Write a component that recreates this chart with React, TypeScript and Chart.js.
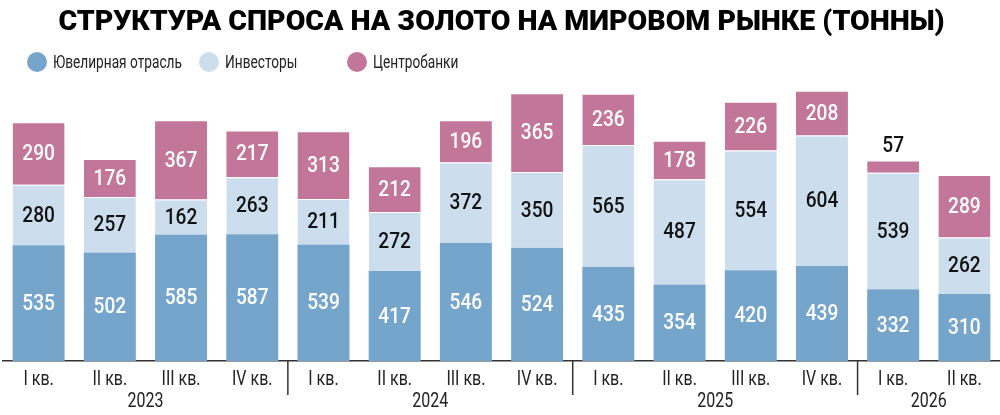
import { useEffect, useRef } from 'react';
import { Chart, registerables, type ChartConfiguration, type Plugin } from 'chart.js';

Chart.register(...registerables);

const QUARTERS = ['I кв.', 'II кв.', 'III кв.', 'IV кв.', 'I кв.', 'II кв.', 'III кв.', 'IV кв.', 'I кв.', 'II кв.', 'III кв.', 'IV кв.', 'I кв.', 'II кв.'];
const YEARS = ['2023', '2024', '2025', '2026'];
const YEAR_OF_QUARTER = [0, 0, 0, 0, 1, 1, 1, 1, 2, 2, 2, 2, 3, 3];

const JEWELRY = [535, 502, 585, 587, 539, 417, 546, 524, 435, 354, 420, 439, 332, 310];
const INVESTORS = [280, 257, 162, 263, 211, 272, 372, 350, 565, 487, 554, 604, 539, 262];
const CENTRAL_BANKS = [290, 176, 367, 217, 313, 212, 196, 365, 236, 178, 226, 208, 57, 289];

const TITLE = 'СТРУКТУРА СПРОСА НА ЗОЛОТО НА МИРОВОМ РЫНКЕ (ТОННЫ)';
const FONT = 'Roboto, "DejaVu Sans", sans-serif';

const COLORS = ['#76a5cc', '#ccdeee', '#c27699'];
const LABEL_COLORS = ['#ffffff', '#111111', '#ffffff'];

// узкий шрифт: рисуем Roboto со сжатием по горизонтали
function narrowText(ctx: CanvasRenderingContext2D, text: string, x: number, y: number, sx: number) {
  ctx.save();
  ctx.translate(x, y);
  ctx.scale(sx, 1);
  ctx.fillText(text, 0, 0);
  ctx.restore();
}

// подписи значений внутри сегментов
const valueLabels: Plugin<'bar'> = {
  id: 'valueLabels',
  afterDatasetsDraw(chart) {
    const { ctx } = chart;
    ctx.save();
    ctx.font = `500 22.5px ${FONT}`;
    ctx.textAlign = 'center';
    chart.data.datasets.forEach((ds, di) => {
      const meta = chart.getDatasetMeta(di);
      meta.data.forEach((el: any, i) => {
        const v = ds.data[i] as number;
        const h = Math.abs(el.base - el.y);
        if (h < 26) {
          ctx.fillStyle = '#111';
          ctx.textBaseline = 'bottom';
          narrowText(ctx, String(v), el.x, el.y - 3, 0.85);
        } else {
          ctx.fillStyle = LABEL_COLORS[di];
          ctx.textBaseline = 'middle';
          narrowText(ctx, String(v), el.x, (el.y + el.base) / 2 + 1, 0.85);
        }
      });
    });
    ctx.restore();
  },
};

// подписи кварталов, разделители и подписи годов под осью
const yearAxis: Plugin<'bar'> = {
  id: 'yearAxis',
  afterDraw(chart) {
    const { ctx, chartArea } = chart;
    const x = chart.scales.x;
    ctx.save();
    ctx.fillStyle = '#222';
    ctx.font = `19.5px ${FONT}`;
    ctx.textAlign = 'center';
    ctx.textBaseline = 'middle';
    (chart.data.labels as string[]).forEach((lbl, i) => {
      narrowText(ctx, lbl, x.getPixelForValue(i), chartArea.bottom + 19, 0.82);
    });

    ctx.strokeStyle = '#333';
    ctx.lineWidth = 1.5;
    for (let i = 1; i < YEAR_OF_QUARTER.length; i++) {
      if (YEAR_OF_QUARTER[i] !== YEAR_OF_QUARTER[i - 1]) {
        const px = (x.getPixelForValue(i - 1) + x.getPixelForValue(i)) / 2;
        ctx.beginPath();
        ctx.moveTo(px, chartArea.bottom);
        ctx.lineTo(px, chartArea.bottom + 34);
        ctx.stroke();
      }
    }
    YEARS.forEach((year, yi) => {
      const idx = YEAR_OF_QUARTER.map((y, i) => (y === yi ? i : -1)).filter((i) => i >= 0);
      const px = (x.getPixelForValue(idx[0]) + x.getPixelForValue(idx[idx.length - 1])) / 2;
      narrowText(ctx, year, px, chartArea.bottom + 41, 0.82);
    });
    ctx.restore();
  },
};

// легенда с кружками
const circleLegend: Plugin<'bar'> = {
  id: 'circleLegend',
  afterDraw(chart) {
    const { ctx } = chart;
    const xs = [37, 209, 357];
    const y = 62;
    ctx.save();
    ctx.font = `19px ${FONT}`;
    ctx.textBaseline = 'middle';
    ctx.textAlign = 'left';
    chart.data.datasets.forEach((ds, i) => {
      ctx.fillStyle = ds.backgroundColor as string;
      ctx.beginPath();
      ctx.arc(xs[i], y, 10, 0, Math.PI * 2);
      ctx.fill();
      ctx.fillStyle = '#222';
      narrowText(ctx, ds.label ?? '', xs[i] + 16, y + 1, 0.72);
    });
    ctx.restore();
  },
};

export default function App() {
  const canvasRef = useRef<HTMLCanvasElement>(null);
  const chartRef = useRef<Chart | null>(null);

  useEffect(() => {
    document.body.style.margin = '0';
    if (!canvasRef.current) return;

    const mk = (label: string, data: number[], i: number) => ({
      label,
      data,
      backgroundColor: COLORS[i],
      borderColor: '#ffffff',
      borderWidth: { top: i === 0 ? 0 : 1, left: 0, right: 0, bottom: 0 },
      borderSkipped: false as const,
      barPercentage: 0.73,
      categoryPercentage: 1,
    });

    const config: ChartConfiguration<'bar'> = {
      type: 'bar',
      data: {
        labels: QUARTERS,
        datasets: [
          mk('Ювелирная отрасль', JEWELRY, 0),
          mk('Инвесторы', INVESTORS, 1),
          mk('Центробанки', CENTRAL_BANKS, 2),
        ],
      },
      options: {
        animation: false,
        responsive: true,
        maintainAspectRatio: false,
        layout: { padding: { left: 3, right: 0, top: 0, bottom: 0 } },
        plugins: {
          legend: { display: false },
          tooltip: { enabled: false },
          title: {
            display: true,
            text: TITLE,
            color: '#000',
            font: { family: FONT, size: 28.5, weight: 900 },
            padding: { top: 6, bottom: 42 },
          },
        },
        scales: {
          x: {
            stacked: true,
            grid: { display: false, drawTicks: false },
            border: { display: true, color: '#333', width: 1.5 },
            ticks: { display: false },
            afterFit: (s) => { s.height = 54; },
          },
          y: {
            stacked: true,
            display: false,
            min: 0,
            max: 1290,
          },
        },
      },
      plugins: [valueLabels, yearAxis, circleLegend],
    };

    chartRef.current = new Chart(canvasRef.current, config);
    return () => { chartRef.current?.destroy(); chartRef.current = null; };
  }, []);

  return (
    <div style={{ position: 'relative', width: 1000, height: 415 }}>
      <canvas ref={canvasRef} role="img" aria-label={TITLE} />
    </div>
  );
}
